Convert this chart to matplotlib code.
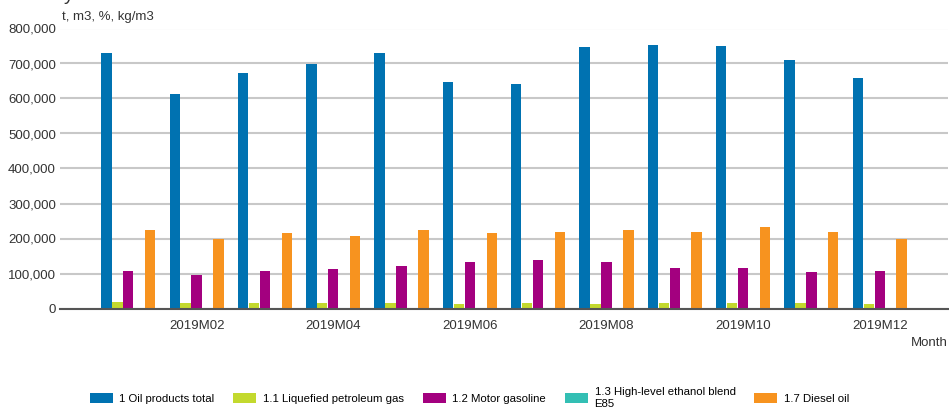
import numpy as np
import matplotlib.pyplot as plt
from matplotlib.ticker import FuncFormatter, MultipleLocator

plt.rcParams['font.family'] = ['Liberation Sans', 'DejaVu Sans']

months = ["2019M01", "2019M02", "2019M03", "2019M04", "2019M05", "2019M06",
          "2019M07", "2019M08", "2019M09", "2019M10", "2019M11", "2019M12"]

series_names = ["1 Oil products total", "1.1 Liquefied petroleum gas",
                "1.2 Motor gasoline", "1.3 High-level ethanol blend\nE85",
                "1.7 Diesel oil"]

oil_total = [729000, 613000, 674000, 699000, 729000, 646000,
             641000, 747000, 753000, 750000, 711000, 659000]
lpg = [19000, 16000, 16000, 16000, 16000, 14000,
       16000, 14000, 16000, 16000, 16000, 14000]
gasoline = [107000, 95000, 107000, 113000, 122000, 133000,
            139000, 133000, 116000, 116000, 104000, 107000]
e85 = [2000, 2000, 2000, 2000, 2000, np.nan,
       np.nan, np.nan, np.nan, np.nan, np.nan, np.nan]
diesel = [223000, 198000, 215000, 208000, 223000, 215000,
          220000, 223000, 220000, 232000, 218000, 198000]

colors = ["#0072b1", "#c3d92e", "#a3007f", "#33bfb4", "#f7931f"]

fig = plt.figure(figsize=(9.49, 4.13), dpi=100)
ax = fig.add_axes([60 / 949, 104.5 / 413, 888 / 949, 280 / 413])

x = np.arange(len(months))
w = 0.16
data = [oil_total, lpg, gasoline, e85, diesel]
for i, (vals, name, c) in enumerate(zip(data, series_names, colors)):
    ax.bar(x + (i - 2) * w, vals, width=w * 0.95, color=c, label=name, linewidth=0)

ax.set_ylim(0, 800000)
ax.set_xlim(-1.0, 12.0)
ax.yaxis.set_major_locator(MultipleLocator(100000))
ax.yaxis.set_major_formatter(FuncFormatter(lambda v, p: f"{int(v):,}"))
ax.grid(axis="y", color="#c8c8c8", linewidth=1.5)
ax.set_axisbelow(True)

ax.set_xticks(x[1::2])
ax.set_xticklabels(months[1::2])

for s in ["top", "right", "left"]:
    ax.spines[s].set_visible(False)
ax.spines["bottom"].set_color("#555555")
ax.spines["bottom"].set_linewidth(1.5)
ax.tick_params(axis="both", length=0, labelsize=9.5, colors="#333333")
ax.tick_params(axis="x", pad=8)
ax.tick_params(axis="y", pad=3)

fig.text(62 / 949, 1 - 17 / 413, "t, m3, %, kg/m3", fontsize=9.5,
         color="#333333", va="center", ha="left")
fig.text(948 / 949, 1 - 343 / 413, "Month", fontsize=9.5,
         color="#333333", va="center", ha="right")
fig.text(64 / 949, 1.0, "y", fontsize=14, color="#333333", va="baseline")

fig.legend(loc="center left", bbox_to_anchor=(83 / 949, 1 - 398 / 413),
           ncol=5, frameon=False, fontsize=8.2, handlelength=2.0,
           handleheight=0.9, columnspacing=1.65, handletextpad=0.6,
           borderaxespad=0.2)

fig.savefig("out.png", dpi=100)
